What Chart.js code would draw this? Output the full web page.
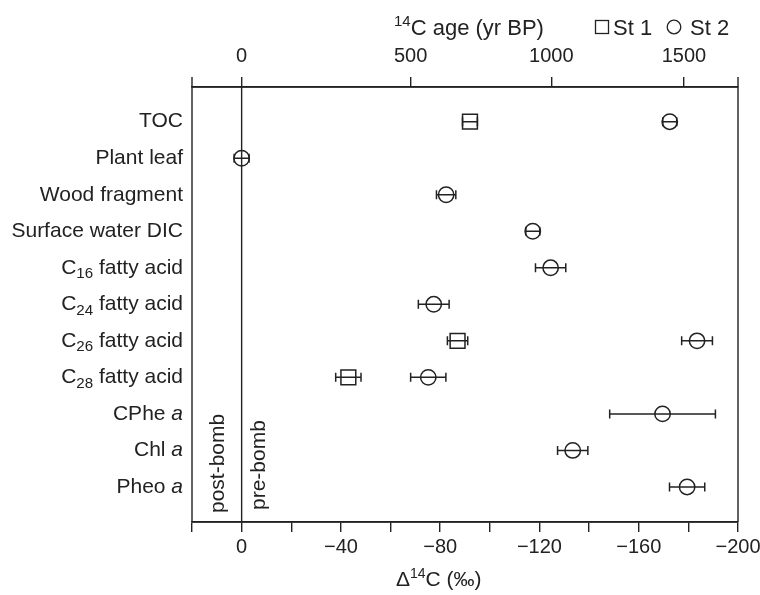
<!DOCTYPE html>
<html>
<head>
<meta charset="utf-8">
<script src="https://cdn.jsdelivr.net/npm/chart.js@4.4.1/dist/chart.umd.min.js"></script>
<style>
  html, body { margin: 0; padding: 0; background: #fff; }
  #wrap { width: 760px; height: 595px; }
</style>
</head>
<body>
<div id="wrap"><canvas id="radioChart"></canvas></div>
<script>
// rows, top to bottom (_{..} = subscript, *..* = italic)
const categories = [
  'TOC', 'Plant leaf', 'Wood fragment', 'Surface water DIC',
  'C_{16} fatty acid', 'C_{24} fatty acid', 'C_{26} fatty acid', 'C_{28} fatty acid',
  'CPhe *a*', 'Chl *a*', 'Pheo *a*'
];

// Δ14C (‰) and 1σ error, St 1 (squares)
const st1Values = [-92, null, null, null, null, null, -87, -43, null, null, null];
const st1Errors = [3, null, null, null, null, null, 4.1, 5.1, null, null, null];

// Δ14C (‰) and 1σ error, St 2 (circles)
const st2Values = [-172.5, 0, -82.4, -117.3, -124.5, -77.4, -183.5, -75.2, -169.6, -133.4, -179.5];
const st2Errors = [2.8, 3, 3.9, 2.8, 6.1, 6.2, 6.2, 7.1, 21.3, 6.1, 7.1];

// bottom axis ticks
const deltaTicks = [20, 0, -20, -40, -60, -80, -100, -120, -140, -160, -180, -200];
// top axis: 14C age labels and where they sit on the Δ14C scale
const ageLabels = ['0', '500', '1000', '1500'];
const ageTickDelta = [0, -68.1, -124.8, -178.2];

const FONT = "'Liberation Sans', Arial, Helvetica, sans-serif";
const INK = '#222';

const toPoints = (vals, errs) => vals
  .map((v, i) => v === null ? null : { x: v, y: i, e: errs[i] })
  .filter(p => p !== null);

const fmtDelta = v => v === 0 ? '0' : (v < 0 ? '\u2212' + Math.abs(v) : String(v));

// text with _{sub} and *italic* pieces
function parseRich(str) {
  const parts = [];
  const re = /_\{([^}]*)\}|\*([^*]*)\*|([^_*]+)/g;
  let m;
  while ((m = re.exec(str)) !== null) {
    if (m[1] !== undefined) parts.push({ t: m[1], sub: true });
    else if (m[2] !== undefined) parts.push({ t: m[2], it: true });
    else parts.push({ t: m[3] });
  }
  return parts;
}
function setFont(ctx, p, size) {
  ctx.font = (p.it ? 'italic ' : '') + (p.sub ? size * 0.72 : size) + 'px ' + FONT;
}
function drawRich(ctx, str, xRight, y, size) {
  const parts = parseRich(str);
  let w = 0;
  parts.forEach(p => { setFont(ctx, p, size); w += ctx.measureText(p.t).width; });
  let x = xRight - w;
  parts.forEach(p => {
    setFont(ctx, p, size);
    ctx.fillText(p.t, x, p.sub ? y + size * 0.3 : y);
    x += ctx.measureText(p.t).width;
  });
}

const decorPlugin = {
  id: 'decor',
  beforeDatasetsDraw(chart) {
    const { ctx, chartArea: a, scales } = chart;
    const xs = scales.x, ys = scales.y;
    ctx.save();
    ctx.strokeStyle = INK;
    ctx.lineWidth = 1.4;
    // frame, side lines poke up like ticks
    ctx.beginPath();
    ctx.moveTo(a.left, a.top - 10); ctx.lineTo(a.left, a.bottom);
    ctx.moveTo(a.right, a.top - 10); ctx.lineTo(a.right, a.bottom);
    ctx.moveTo(a.left, a.top); ctx.lineTo(a.right, a.top);
    ctx.moveTo(a.left, a.bottom); ctx.lineTo(a.right, a.bottom);
    // zero line
    const x0 = xs.getPixelForValue(0);
    ctx.moveTo(x0, a.top); ctx.lineTo(x0, a.bottom);
    ctx.stroke();

    // error bars
    ctx.lineWidth = 1.5;
    chart.data.datasets.forEach(ds => {
      ds.data.forEach(p => {
        const y = ys.getPixelForValue(p.y);
        const xl = xs.getPixelForValue(p.x - p.e);
        const xr = xs.getPixelForValue(p.x + p.e);
        ctx.beginPath();
        ctx.moveTo(xl, y); ctx.lineTo(xr, y);
        ctx.moveTo(xl, y - 4.5); ctx.lineTo(xl, y + 4.5);
        ctx.moveTo(xr, y - 4.5); ctx.lineTo(xr, y + 4.5);
        ctx.stroke();
      });
    });

    // category labels
    ctx.fillStyle = INK;
    ctx.textBaseline = 'middle';
    ctx.textAlign = 'left';
    categories.forEach((c, i) => {
      drawRich(ctx, c, a.left - 9, ys.getPixelForValue(i), 21);
    });

    // post-bomb / pre-bomb
    ctx.font = '21px ' + FONT;
    ctx.save();
    ctx.translate(x0 - 23, a.bottom - 9);
    ctx.rotate(-Math.PI / 2);
    ctx.fillText('post-bomb', 0, 0);
    ctx.restore();
    ctx.save();
    ctx.translate(x0 + 18, a.bottom - 12);
    ctx.rotate(-Math.PI / 2);
    ctx.fillText('pre-bomb', 0, 0);
    ctx.restore();

    // top title with superscript
    ctx.textBaseline = 'alphabetic';
    let tx = 394;
    ctx.font = '15px ' + FONT;
    ctx.fillText('14', tx, 26);
    tx += ctx.measureText('14').width;
    ctx.font = '22px ' + FONT;
    ctx.fillText('C age (yr BP)', tx, 35);

    // legend
    ctx.lineWidth = 1.3;
    ctx.strokeRect(595.5, 20.5, 13, 13);
    ctx.fillText('St 1', 613, 35);
    ctx.beginPath();
    ctx.arc(674, 27, 6.8, 0, Math.PI * 2);
    ctx.stroke();
    ctx.fillText('St 2', 690, 35);

    // bottom title
    ctx.font = '21px ' + FONT;
    let bx = 396;
    ctx.fillText('\u0394', bx, 586);
    bx += ctx.measureText('\u0394').width;
    ctx.font = '14px ' + FONT;
    ctx.fillText('14', bx, 578);
    bx += ctx.measureText('14').width;
    ctx.font = '21px ' + FONT;
    ctx.fillText('C (\u2030)', bx, 586);
    ctx.restore();
  }
};

const axisBase = {
  type: 'linear',
  min: -200,
  max: 20,
  reverse: true,
  border: { display: true, color: INK, width: 1.4 },
  grid: { drawOnChartArea: false, drawTicks: true, tickLength: 10, color: INK, lineWidth: 1.4 }
};

const noSidePad = s => { s.paddingLeft = 0; s.paddingRight = 0; };

new Chart(document.getElementById('radioChart'), {
  type: 'scatter',
  data: {
    datasets: [
      {
        label: 'St 1',
        data: toPoints(st1Values, st1Errors),
        pointStyle: 'rect',
        pointRadius: 10.5,
        pointHoverRadius: 10.5,
        borderColor: INK,
        borderWidth: 1.5,
        backgroundColor: 'rgba(0,0,0,0)'
      },
      {
        label: 'St 2',
        data: toPoints(st2Values, st2Errors),
        pointStyle: 'circle',
        pointRadius: 7.7,
        pointHoverRadius: 7.7,
        borderColor: INK,
        borderWidth: 1.5,
        backgroundColor: 'rgba(0,0,0,0)'
      }
    ]
  },
  options: {
    responsive: true,
    maintainAspectRatio: false,
    animation: false,
    layout: { padding: { left: 192, right: 22, top: 0, bottom: 0 } },
    plugins: { legend: { display: false }, tooltip: { enabled: false } },
    scales: {
      x: {
        ...axisBase,
        position: 'bottom',
        afterFit: s => { s.height = 73; noSidePad(s); },
        afterBuildTicks: s => { s.ticks = deltaTicks.map(v => ({ value: v })); },
        ticks: {
          autoSkip: false,
          maxRotation: 0,
          padding: 3,
          color: INK,
          font: { family: FONT, size: 20 },
          callback: v => (v % 40 === 0 ? fmtDelta(v) : '')
        }
      },
      x2: {
        ...axisBase,
        position: 'top',
        afterFit: s => { s.height = 87; noSidePad(s); },
        afterBuildTicks: s => { s.ticks = ageTickDelta.map(v => ({ value: v })); },
        ticks: {
          autoSkip: false,
          maxRotation: 0,
          padding: 9,
          color: INK,
          font: { family: FONT, size: 20 },
          callback: (v, i) => ageLabels[i]
        }
      },
      y: {
        type: 'linear',
        display: false,
        min: -0.95,
        max: 10.96,
        reverse: true
      }
    }
  },
  plugins: [decorPlugin]
});
</script>
</body>
</html>
